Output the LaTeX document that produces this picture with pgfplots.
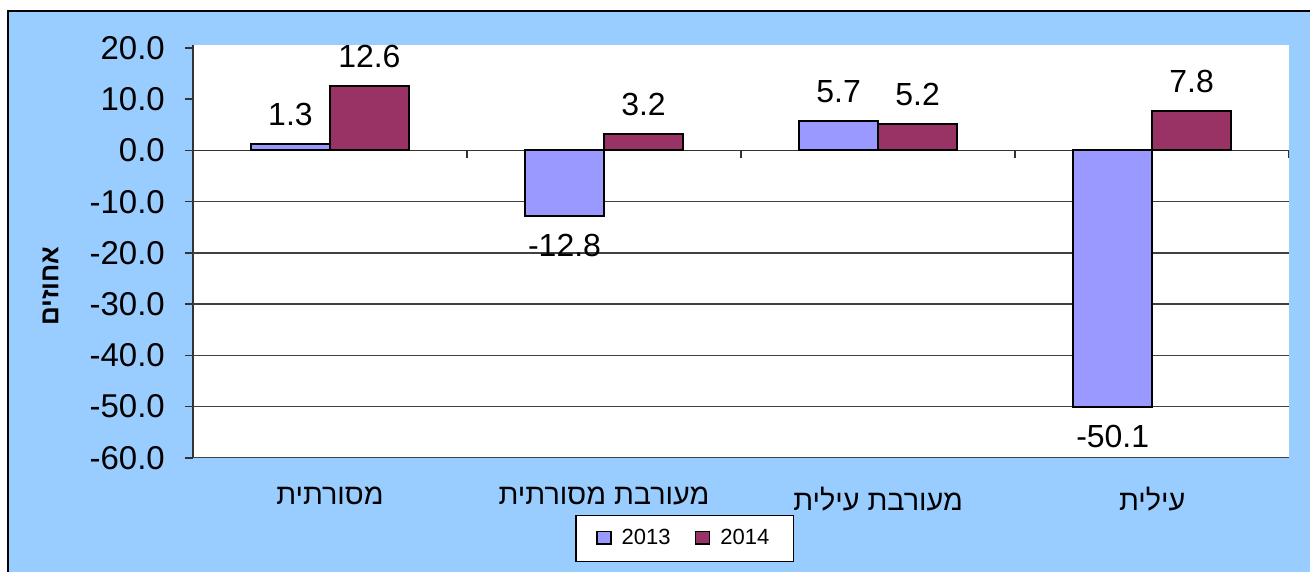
\documentclass[border=0pt]{standalone}
\usepackage{fontspec}
\setmainfont{Liberation Sans}
\newfontfamily\hebfont[Script=Hebrew]{Liberation Sans}
\TeXXeTstate=1
\usepackage{pgfplots}
\pgfplotsset{compat=1.18}

\definecolor{bgblue}{HTML}{99CCFF}
\definecolor{c2013}{HTML}{9999FF}
\definecolor{c2014}{HTML}{993366}

\begin{document}
\begin{tikzpicture}[x=1pt,y=1pt]
% outer chart area
\fill[bgblue] (4,-5.5) rectangle (655.5,-286);
\draw[black, line width=0.8pt] (4,-286) -- (4,-5.5) -- (655.5,-5.5);
\useasboundingbox (0,0) rectangle (655.5,-286);

\begin{axis}[
    at={(96.5pt,-229pt)}, anchor=south west,
    scale only axis,
    width=548.5pt, height=206.5pt,
    axis background/.style={fill=white},
    ybar=0pt,
    bar width=0.288,
    xmin=-0.5, xmax=3.5,
    ymin=-60, ymax=20.6,
    xtick={0,1,2,3},
    xticklabels={
        {\hebfont\beginR מסורתית\endR},
        {\hebfont\beginR מעורבת מסורתית\endR},
        {\hebfont\beginR מעורבת עילית\endR},
        {\hebfont\beginR עילית\endR}},
    xticklabel style={font=\fontsize{14.4}{16}\selectfont, yshift=-7pt},
    major x tick style={draw=none},
    axis x line*=bottom,
    x axis line style={draw=none},
    axis y line*=left,
    y axis line style={black!80, line width=0.8pt},
    ytick={-60,-50,...,20},
    yticklabel style={font=\fontsize{16.5}{18}\selectfont, xshift=-6.5pt},
    /pgf/number format/.cd, fixed, fixed zerofill, precision=1, assume math mode=true,
    /pgfplots/.cd,
    tick align=outside,
    major tick length=4pt,
    major y tick style={black!80, line width=0.8pt},
    extra y ticks={-60,-50,-40,-30,-20,-10},
    extra y tick labels={},
    extra y tick style={grid=major, major tick length=0pt},
    major grid style={black!75, line width=0.7pt},
    ylabel={\hebfont\bfseries\beginR אחוזים\endR},
    ylabel style={at={(axis description cs:-0.130,0.416)}, anchor=center,
        font=\fontsize{13}{15}\selectfont},
    nodes near coords={\pgfmathprintnumber[fixed,fixed zerofill,precision=1,assume math mode=true]{\pgfplotspointmeta}},
    nodes near coords style={font=\fontsize{16}{18}\selectfont, inner ysep=8.5pt, black},
    legend style={at={(0.4485,-0.196)}, anchor=center, legend columns=2,
        draw=black, fill=white, line width=0.6pt,
        font=\fontsize{11}{13}\selectfont,
        inner xsep=10pt, inner ysep=5pt,
        /tikz/every odd column/.append style={column sep=3pt},
        /tikz/every even column/.append style={column sep=10pt}},
    legend image code/.code={\draw[#1, line width=0.9pt] (0pt,-2.8pt) rectangle (7pt,3.6pt);},
]
% zero line with category separators
\draw[black!80, line width=0.8pt] (axis cs:-0.5,0) -- (axis cs:3.5,0);
\pgfplotsinvokeforeach{0.5,1.5,2.5,3.5}{
    \draw[black!80, line width=0.8pt] (axis cs:#1,0) -- (axis cs:#1,-1.4);
}
\addplot[fill=c2013, draw=black, line width=1pt] coordinates {
    (0,1.3) (1,-12.8) (2,5.7) (3,-50.1)
};
\addplot[fill=c2014, draw=black, line width=1pt] coordinates {
    (0,12.6) (1,3.2) (2,5.2) (3,7.8)
};
\legend{2013, 2014}
\end{axis}
\end{tikzpicture}
\end{document}
